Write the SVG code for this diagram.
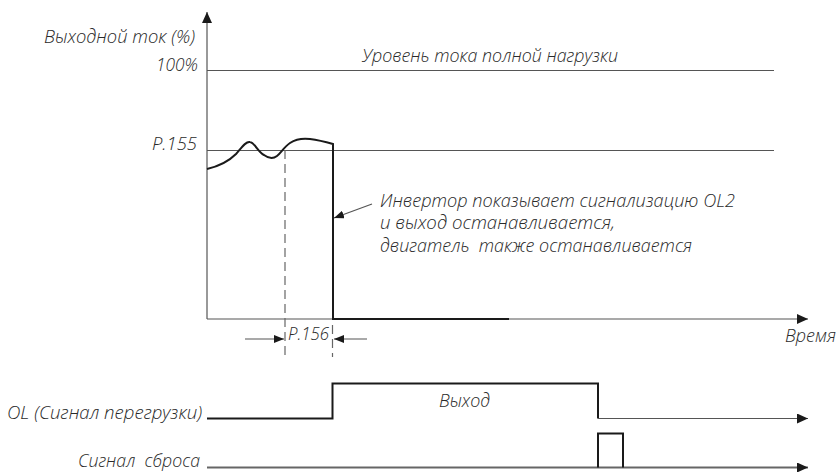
<svg xmlns="http://www.w3.org/2000/svg" width="839" height="472" viewBox="0 0 839 472">
<style>
  text { font-family: "Open Sans", "Liberation Sans", sans-serif; font-style: italic; font-weight: 300; font-size: 18px; fill: #2a2a2a; white-space: pre; }
  .thin { stroke: #555; stroke-width: 1.2; fill: none; }
  .sig { stroke: #1a1a1a; stroke-width: 2; fill: none; }
  .dash { stroke: #666; stroke-width: 1.2; fill: none; stroke-dasharray: 9 5; }
</style>
<defs>
  <marker id="ah" markerWidth="11" markerHeight="10" refX="11" refY="5" orient="auto" markerUnits="userSpaceOnUse">
    <path d="M0,0 L11,5 L0,10 Z" fill="#1a1a1a"/>
  </marker>
  <marker id="ahs" markerWidth="10" markerHeight="8" refX="10" refY="4" orient="auto" markerUnits="userSpaceOnUse">
    <path d="M0,0 L10,4 L0,8 Z" fill="#1a1a1a"/>
  </marker>
</defs>

<g id="axes">
  <line class="thin" x1="207" y1="319" x2="207" y2="12" marker-end="url(#ah)"/>
  <line class="thin" x1="207" y1="319" x2="808" y2="319" marker-end="url(#ah)"/>
  <text x="44" y="43" textLength="151" lengthAdjust="spacingAndGlyphs">Выходной ток (%)</text>
  <text x="785" y="342" textLength="51" lengthAdjust="spacingAndGlyphs">Время</text>
</g>

<g id="level-100">
  <line class="thin" x1="207" y1="70.5" x2="774" y2="70.5"/>
  <text x="156" y="71" textLength="42" lengthAdjust="spacingAndGlyphs">100%</text>
  <text x="362" y="62" textLength="256" lengthAdjust="spacingAndGlyphs">Уровень тока полной нагрузки</text>
</g>

<g id="level-p155">
  <line class="thin" x1="207" y1="150.5" x2="774" y2="150.5"/>
  <text x="152" y="150" textLength="45" lengthAdjust="spacingAndGlyphs">P.155</text>
</g>

<g id="current-curve">
  <path class="sig" d="M207,169 C220,166 228,162 236,154 C242,147 246,141 250,142 C255,143 258,152 264,155 C268,158 273,159 277,156 C281,153 284,147 290,143 C296,139 302,138 310,139 C318,140 326,142 333,144 L333,319 L509,319"/>
</g>

<g id="p156">
  <line class="dash" x1="285" y1="150" x2="285" y2="357"/>
  <line class="dash" x1="332.5" y1="325" x2="332.5" y2="357"/>
  <line class="thin" x1="245" y1="339" x2="284" y2="339" marker-end="url(#ahs)"/>
  <line class="thin" x1="367" y1="339" x2="334" y2="339" marker-end="url(#ahs)"/>
  <text x="288" y="340" textLength="41" lengthAdjust="spacingAndGlyphs">P.156</text>
</g>

<g id="annotation">
  <text x="380" y="207" textLength="355" lengthAdjust="spacingAndGlyphs">Инвертор показывает сигнализацию OL2</text>
  <text x="380" y="229" textLength="235" lengthAdjust="spacingAndGlyphs">и выход останавливается,</text>
  <text x="380" y="252" textLength="312" lengthAdjust="spacingAndGlyphs">двигатель  также останавливается</text>
</g>

<g id="ol-signal">
  <text x="7" y="419" textLength="195" lengthAdjust="spacingAndGlyphs">OL (Сигнал перегрузки)</text>
  <path class="sig" d="M207,418.5 L332.5,418.5 L332.5,383.5 L598,383.5 L598,418.5"/>
  <line class="thin" x1="598" y1="418.5" x2="808" y2="418.5" stroke="#1a1a1a" marker-end="url(#ah)"/>
  <text x="439" y="407" textLength="51" lengthAdjust="spacingAndGlyphs">Выход</text>
</g>

<g id="reset-signal">
  <text x="78" y="467" textLength="122" lengthAdjust="spacingAndGlyphs">Сигнал  сброса</text>
  <line x1="207" y1="467.5" x2="808" y2="467.5" stroke="#666" stroke-width="1.8" marker-end="url(#ah)"/>
  <path class="sig" d="M598,467.5 L598,433.5 L623,433.5 L623,467.5"/>
</g>

<g id="connectors">
  <line class="thin" x1="372" y1="204" x2="334" y2="218" stroke="#1a1a1a" marker-end="url(#ahs)"/>
</g>
</svg>
